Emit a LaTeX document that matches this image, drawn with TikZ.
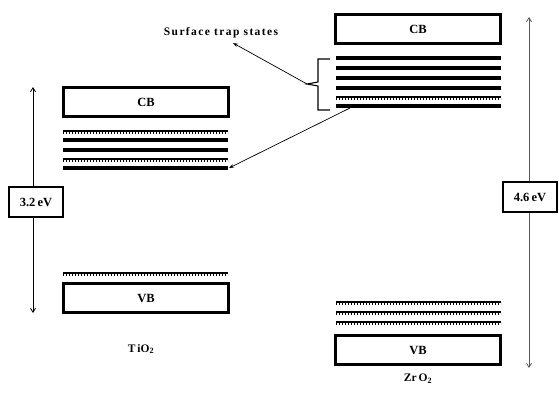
\documentclass[tikz,border=0pt]{standalone}
\usepackage{fontspec}
\setmainfont{Liberation Serif}
\usetikzlibrary{arrows.meta}
\tikzset{
  band/.style={draw, line width=2.2pt, minimum width=165pt, minimum height=29pt, inner sep=0pt, font=\bfseries\fontsize{12.5}{12.5}\selectfont, fill=white},
  gapbox/.style={draw, line width=2pt, minimum width=54pt, minimum height=30pt, inner sep=0pt, font=\bfseries\fontsize{12.5}{12.5}\selectfont, fill=white},
  trap/.style={line width=3.3pt},
  dtrap/.style={line width=2.4pt},
  dots/.style={line width=1.1pt, dash pattern=on 1pt off 2pt},
  arr/.style={line width=0.7pt, -{Stealth[length=5pt,width=3.5pt]}},
  varr/.style={line width=0.8pt, {Straight Barb[length=4pt,width=5pt]}-{Straight Barb[length=4pt,width=5pt]}},
  lab/.style={font=\bfseries\fontsize{11.5}{11.5}\selectfont},
}
\begin{document}
\begin{tikzpicture}[x=1pt,y=-1pt]
\useasboundingbox (0,0) rectangle (559,392);
% ---------- TiO2 ----------
\coordinate (aLt) at (33,87);
\coordinate (aLb) at (33,313);
\draw[varr] (aLt) -- (aLb);
\node[gapbox] (gL) at (36,202) {3.2\,eV};
\node[band] (cbL) at (146,102) {CB};
\node[band] (vbL) at (146,298) {VB};
% trap lines left
\draw[dtrap] (63,131) -- (228,131); \draw[dots] (63,133) -- (228,133);
\draw[trap] (63,140) -- (228,140);
\draw[trap] (63,150) -- (228,150);
\draw[dtrap] (63,159) -- (228,159); \draw[dots] (63,161) -- (228,161);
\draw[trap] (63,168) -- (228,168);
\coordinate (tL) at (229,168);
\draw[dtrap] (63,273) -- (228,273); \draw[dots] (63,275) -- (228,275);
\node[lab] (tio) at (141,349) {T\,iO\textsubscript{2}};
% ---------- ZrO2 ----------
\coordinate (aRt) at (529,17);
\coordinate (aRb) at (529,368);
\draw[varr, draw=black!65] (aRt) -- (aRb);
\node[gapbox] (gR) at (530,197) {4.6\,eV};
\node[band] (cbR) at (418,29) {CB};
\node[band] (vbR) at (418,350) {VB};
\draw[trap] (336,58) -- (501,58);
\draw[trap] (336,68) -- (501,68);
\draw[trap] (336,78) -- (501,78);
\draw[trap] (336,88) -- (501,88);
\draw[dtrap] (336,97) -- (501,97); \draw[dots] (336,99) -- (501,99);
\draw[trap] (336,106) -- (501,106);
\coordinate (tR) at (350,108);
\draw[dtrap] (336,302) -- (501,302); \draw[dots] (336,304) -- (501,304);
\draw[dtrap] (336,312) -- (501,312); \draw[dots] (336,314) -- (501,314);
\draw[dtrap] (336,322) -- (501,322); \draw[dots] (336,324) -- (501,324);
\node[lab] (zro) at (418,379) {Zr\,O\textsubscript{2}};
% ---------- bracket and labels ----------
\coordinate (bt) at (307,84);
\draw[line width=1.1pt] (330,59) -- (318,59) -- (318,82) -- (bt) -- (318,86) -- (318,110) -- (330,110);
\node[lab, font=\bfseries\fontsize{11.5}{11.5}\selectfont\addfontfeatures{LetterSpace=12}] (surf) at (221,33) {Surface trap states};
\coordinate (st) at (233,43);
\draw[arr] (bt) -- (st);
\draw[arr] (tR) -- (tL);
\end{tikzpicture}
\end{document}
